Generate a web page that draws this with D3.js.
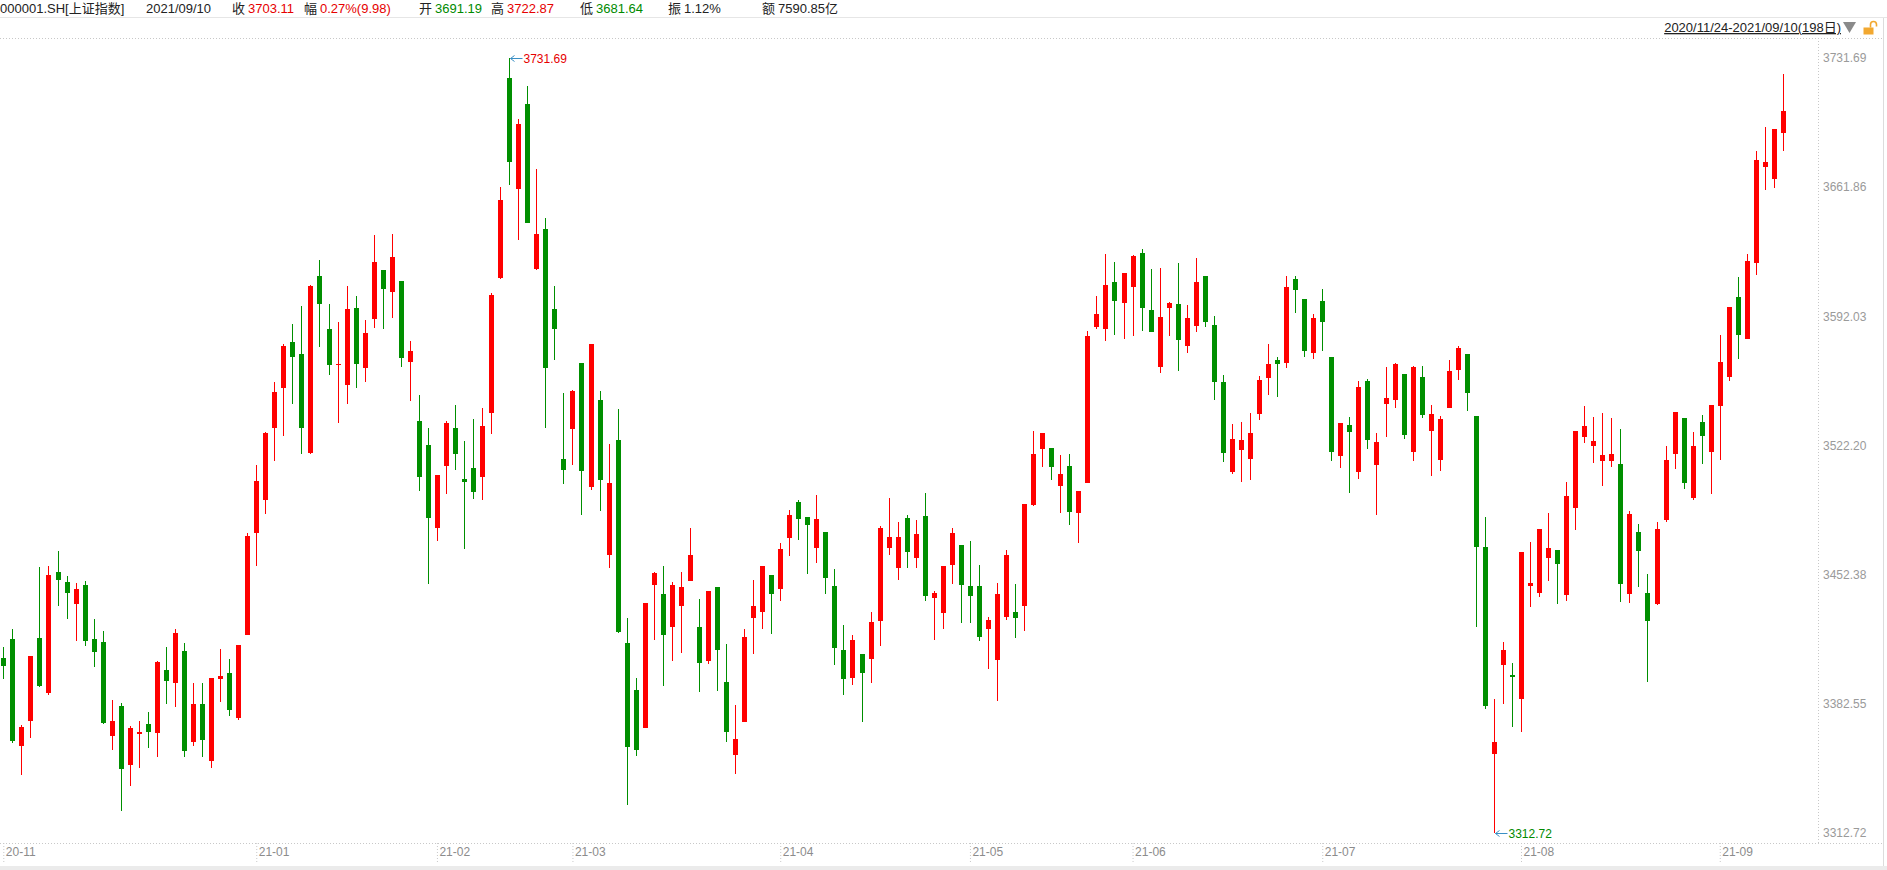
<!DOCTYPE html>
<html>
<head>
<meta charset="utf-8">
<script src="https://cdn.jsdelivr.net/npm/d3@7"></script>
<style>
  html, body { margin: 0; padding: 0; background: #fff; overflow: hidden; }
  svg { display: block; font-family: "Liberation Sans", Arial, "Noto Sans CJK SC", sans-serif; }
</style>
</head>
<body>
<svg id="chart" width="1887" height="870"></svg>
<script>
// trading days 2020/11/24 - 2021/09/10 {{{ //
const dates = [
  "2020-11-24","2020-11-25","2020-11-26","2020-11-27","2020-11-30",
  "2020-12-01","2020-12-02","2020-12-03","2020-12-04","2020-12-07","2020-12-08","2020-12-09","2020-12-10","2020-12-11","2020-12-14",
  "2020-12-15","2020-12-16","2020-12-17","2020-12-18","2020-12-21","2020-12-22","2020-12-23","2020-12-24","2020-12-25","2020-12-28",
  "2020-12-29","2020-12-30","2020-12-31",
  "2021-01-04","2021-01-05","2021-01-06","2021-01-07","2021-01-08","2021-01-11","2021-01-12","2021-01-13","2021-01-14","2021-01-15",
  "2021-01-18","2021-01-19","2021-01-20","2021-01-21","2021-01-22","2021-01-25","2021-01-26","2021-01-27","2021-01-28","2021-01-29",
  "2021-02-01","2021-02-02","2021-02-03","2021-02-04","2021-02-05","2021-02-08","2021-02-09","2021-02-10","2021-02-18","2021-02-19",
  "2021-02-22","2021-02-23","2021-02-24","2021-02-25","2021-02-26",
  "2021-03-01","2021-03-02","2021-03-03","2021-03-04","2021-03-05","2021-03-08","2021-03-09","2021-03-10","2021-03-11","2021-03-12",
  "2021-03-15","2021-03-16","2021-03-17","2021-03-18","2021-03-19","2021-03-22","2021-03-23","2021-03-24","2021-03-25","2021-03-26",
  "2021-03-29","2021-03-30","2021-03-31",
  "2021-04-01","2021-04-02","2021-04-06","2021-04-07","2021-04-08","2021-04-09","2021-04-12","2021-04-13","2021-04-14","2021-04-15",
  "2021-04-16","2021-04-19","2021-04-20","2021-04-21","2021-04-22","2021-04-23","2021-04-26","2021-04-27","2021-04-28","2021-04-29",
  "2021-04-30",
  "2021-05-06","2021-05-07","2021-05-10","2021-05-11","2021-05-12","2021-05-13","2021-05-14","2021-05-17","2021-05-18","2021-05-19",
  "2021-05-20","2021-05-21","2021-05-24","2021-05-25","2021-05-26","2021-05-27","2021-05-28","2021-05-31",
  "2021-06-01","2021-06-02","2021-06-03","2021-06-04","2021-06-07","2021-06-08","2021-06-09","2021-06-10","2021-06-11","2021-06-15",
  "2021-06-16","2021-06-17","2021-06-18","2021-06-21","2021-06-22","2021-06-23","2021-06-24","2021-06-25","2021-06-28","2021-06-29",
  "2021-06-30",
  "2021-07-01","2021-07-02","2021-07-05","2021-07-06","2021-07-07","2021-07-08","2021-07-09","2021-07-12","2021-07-13","2021-07-14",
  "2021-07-15","2021-07-16","2021-07-19","2021-07-20","2021-07-21","2021-07-22","2021-07-23","2021-07-26","2021-07-27","2021-07-28",
  "2021-07-29","2021-07-30",
  "2021-08-02","2021-08-03","2021-08-04","2021-08-05","2021-08-06","2021-08-09","2021-08-10","2021-08-11","2021-08-12","2021-08-13",
  "2021-08-16","2021-08-17","2021-08-18","2021-08-19","2021-08-20","2021-08-23","2021-08-24","2021-08-25","2021-08-26","2021-08-27",
  "2021-08-30","2021-08-31",
  "2021-09-01","2021-09-02","2021-09-03","2021-09-06","2021-09-07","2021-09-08","2021-09-09","2021-09-10"
];
// }}} trading days //

// OHLC {{{ //
const open = [
  3407.0, 3417.5, 3359.8, 3373.3, 3418.0, 3388.4, 3453.5, 3448.3, 3436.6, 3446.7,
  3417.5, 3415.8, 3365.2, 3381.2, 3349.5, 3366.3, 3371.5, 3366.8, 3400.7, 3393.8,
  3411.0, 3361.9, 3382.3, 3351.7, 3396.0, 3399.1, 3374.9, 3419.7, 3474.7, 3492.5,
  3531.4, 3553.0, 3578.1, 3571.5, 3518.2, 3613.7, 3585.1, 3566.0, 3555.0, 3596.5,
  3564.3, 3590.6, 3616.9, 3605.1, 3611.0, 3567.5, 3535.4, 3522.5, 3477.5, 3510.8,
  3531.8, 3504.2, 3510.0, 3504.9, 3539.9, 3612.5, 3720.9, 3661.1, 3706.9, 3617.4,
  3639.0, 3595.9, 3515.0, 3531.1, 3566.8, 3499.9, 3546.7, 3462.9, 3525.1, 3415.3,
  3389.9, 3369.5, 3446.9, 3441.8, 3424.2, 3435.5, 3449.0, 3424.0, 3405.8, 3445.6,
  3394.2, 3354.9, 3372.6, 3428.8, 3432.1, 3452.1, 3444.7, 3472.3, 3491.6, 3483.4,
  3466.9, 3475.3, 3446.1, 3411.5, 3396.6, 3409.4, 3406.8, 3427.4, 3466.9, 3456.0,
  3482.9, 3461.5, 3484.0, 3439.8, 3431.7, 3457.7, 3468.3, 3446.1, 3446.1, 3423.1,
  3406.3, 3429.5, 3432.1, 3435.5, 3489.9, 3520.4, 3520.8, 3500.4, 3511.0, 3485.8,
  3501.8, 3586.4, 3585.3, 3610.6, 3599.4, 3608.1, 3626.3, 3595.4, 3564.8, 3596.7,
  3598.7, 3576.2, 3587.0, 3613.8, 3587.3, 3556.5, 3508.0, 3519.7, 3515.0, 3539.4,
  3558.8, 3568.4, 3567.0, 3612.2, 3601.4, 3572.4, 3600.3, 3570.0, 3516.6, 3533.2,
  3508.0, 3557.0, 3511.8, 3544.8, 3546.9, 3560.8, 3518.8, 3559.2, 3530.2, 3514.5,
  3542.6, 3563.2, 3571.6, 3538.1, 3467.1, 3355.5, 3403.6, 3398.0, 3385.2, 3446.3,
  3442.6, 3461.5, 3465.6, 3441.5, 3488.5, 3526.9, 3522.0, 3513.9, 3513.9, 3512.1,
  3442.0, 3475.3, 3442.4, 3436.4, 3481.8, 3517.5, 3537.0, 3493.7, 3534.8, 3518.6,
  3543.5, 3559.2, 3602.4, 3579.7, 3620.8, 3672.9, 3666.4, 3691.19
];
const high = [
  3413.0, 3422.9, 3370.8, 3408.5, 3456.4, 3457.0, 3465.1, 3451.5, 3447.8, 3448.8,
  3428.3, 3421.8, 3384.3, 3382.7, 3370.4, 3373.1, 3378.0, 3405.6, 3413.1, 3422.9,
  3415.3, 3393.7, 3393.7, 3396.6, 3412.1, 3406.6, 3414.5, 3474.9, 3511.7, 3529.5,
  3556.6, 3576.8, 3587.8, 3597.4, 3608.8, 3622.2, 3598.5, 3588.9, 3608.2, 3602.9,
  3589.8, 3635.8, 3617.0, 3636.7, 3611.0, 3578.7, 3549.6, 3531.8, 3506.4, 3535.4,
  3544.1, 3524.6, 3536.5, 3542.2, 3604.5, 3662.1, 3731.69, 3698.7, 3716.5, 3671.9,
  3645.4, 3608.2, 3550.5, 3552.2, 3566.8, 3577.2, 3551.6, 3522.9, 3541.9, 3428.8,
  3396.4, 3437.2, 3453.7, 3457.0, 3448.1, 3453.7, 3477.5, 3439.1, 3443.6, 3445.8,
  3414.8, 3381.8, 3422.9, 3449.4, 3456.9, 3452.1, 3469.4, 3487.2, 3492.6, 3483.4,
  3495.3, 3475.3, 3455.3, 3425.0, 3419.6, 3409.4, 3432.1, 3478.6, 3493.7, 3480.7,
  3484.5, 3481.8, 3496.4, 3443.4, 3457.1, 3477.5, 3468.3, 3470.5, 3457.5, 3429.4,
  3447.8, 3465.6, 3447.2, 3490.7, 3530.0, 3529.1, 3520.8, 3517.0, 3517.5, 3497.5,
  3584.0, 3603.0, 3625.7, 3621.4, 3615.6, 3625.2, 3628.4, 3617.6, 3618.2, 3599.8,
  3620.9, 3598.1, 3623.6, 3613.8, 3592.2, 3560.3, 3533.8, 3534.9, 3539.7, 3559.7,
  3577.0, 3570.0, 3613.8, 3613.8, 3601.4, 3593.3, 3606.8, 3570.0, 3534.5, 3537.6,
  3557.0, 3558.1, 3528.9, 3564.6, 3566.8, 3560.8, 3565.1, 3565.1, 3544.0, 3538.1,
  3568.4, 3576.0, 3571.6, 3538.1, 3483.5, 3385.1, 3415.9, 3404.5, 3464.6, 3470.0,
  3477.2, 3485.6, 3465.6, 3502.4, 3530.1, 3543.5, 3537.5, 3539.7, 3537.0, 3531.1,
  3486.7, 3479.7, 3452.6, 3480.8, 3521.9, 3540.4, 3537.2, 3529.4, 3538.6, 3544.2,
  3581.9, 3597.1, 3613.3, 3625.7, 3681.4, 3694.3, 3693.3, 3722.87
];
const low = [
  3396.0, 3361.5, 3344.1, 3364.1, 3391.5, 3387.0, 3435.5, 3428.5, 3416.6, 3413.9,
  3402.5, 3371.5, 3357.4, 3324.6, 3338.1, 3347.7, 3358.5, 3353.8, 3382.5, 3380.9,
  3353.6, 3359.8, 3353.6, 3347.7, 3383.4, 3375.8, 3373.7, 3419.7, 3457.2, 3484.9,
  3513.6, 3527.1, 3544.8, 3517.4, 3517.6, 3575.5, 3560.0, 3534.1, 3544.3, 3553.0,
  3556.7, 3585.9, 3585.3, 3591.2, 3564.7, 3546.3, 3497.4, 3447.3, 3470.5, 3495.7,
  3508.7, 3466.2, 3493.0, 3492.5, 3528.6, 3612.1, 3663.2, 3633.5, 3642.3, 3617.3,
  3531.8, 3568.5, 3501.1, 3511.6, 3484.6, 3498.1, 3486.7, 3455.9, 3420.8, 3327.9,
  3354.4, 3369.3, 3417.1, 3392.3, 3405.8, 3410.1, 3449.0, 3389.0, 3404.2, 3389.5,
  3362.0, 3344.7, 3372.5, 3409.4, 3422.9, 3420.2, 3438.2, 3462.5, 3471.2, 3452.8,
  3458.7, 3442.0, 3403.6, 3387.4, 3392.8, 3372.8, 3393.9, 3413.9, 3463.1, 3449.6,
  3456.0, 3456.0, 3438.2, 3416.9, 3422.9, 3447.4, 3426.3, 3426.3, 3416.6, 3401.4,
  3384.1, 3427.9, 3418.2, 3422.0, 3489.4, 3510.7, 3503.5, 3485.8, 3479.1, 3469.4,
  3501.8, 3585.0, 3578.9, 3582.1, 3579.9, 3581.5, 3584.3, 3583.6, 3561.5, 3581.5,
  3562.6, 3572.4, 3583.7, 3586.4, 3546.9, 3513.4, 3506.9, 3502.6, 3503.7, 3536.1,
  3549.7, 3548.6, 3564.2, 3594.0, 3570.2, 3569.1, 3573.5, 3513.9, 3510.2, 3496.6,
  3504.2, 3520.4, 3484.7, 3526.9, 3542.6, 3525.5, 3513.9, 3537.2, 3505.8, 3508.5,
  3542.5, 3557.7, 3541.0, 3424.2, 3379.8, 3312.72, 3382.5, 3370.1, 3367.4, 3435.0,
  3440.4, 3449.0, 3436.6, 3438.2, 3476.4, 3523.7, 3512.8, 3500.4, 3510.7, 3437.7,
  3437.1, 3445.8, 3394.4, 3435.9, 3480.8, 3509.4, 3498.6, 3492.7, 3512.1, 3495.9,
  3514.3, 3557.0, 3568.9, 3579.6, 3614.3, 3660.3, 3661.5, 3681.64
];
const close = [
  3402.8, 3362.3, 3369.7, 3408.3, 3391.8, 3451.9, 3449.4, 3442.1, 3444.6, 3416.6,
  3410.2, 3372.0, 3373.3, 3347.2, 3369.1, 3367.2, 3367.0, 3404.9, 3394.9, 3420.6,
  3356.8, 3382.3, 3363.1, 3396.6, 3397.3, 3379.0, 3414.5, 3473.1, 3503.0, 3528.7,
  3550.9, 3576.2, 3570.1, 3531.5, 3608.3, 3598.7, 3565.9, 3566.4, 3596.2, 3566.4,
  3583.1, 3621.3, 3606.8, 3624.2, 3569.4, 3573.3, 3505.2, 3483.1, 3505.9, 3534.4,
  3517.4, 3502.3, 3496.8, 3532.7, 3603.5, 3655.1, 3675.4, 3696.1, 3642.4, 3636.3,
  3564.3, 3585.1, 3509.1, 3551.4, 3508.6, 3576.9, 3503.5, 3502.0, 3421.4, 3359.3,
  3357.7, 3436.8, 3453.1, 3419.9, 3446.7, 3445.6, 3463.1, 3404.7, 3443.4, 3411.5,
  3367.1, 3363.6, 3418.3, 3435.3, 3456.7, 3441.9, 3466.3, 3484.4, 3482.5, 3479.3,
  3482.4, 3450.7, 3412.8, 3396.0, 3416.9, 3399.0, 3426.7, 3477.5, 3472.6, 3472.6,
  3464.7, 3474.2, 3440.9, 3442.3, 3456.9, 3474.8, 3446.9, 3440.9, 3418.7, 3427.7,
  3441.8, 3462.9, 3429.0, 3490.5, 3517.5, 3528.9, 3510.7, 3506.7, 3486.3, 3497.3,
  3581.3, 3593.3, 3609.0, 3600.5, 3615.5, 3624.7, 3596.7, 3583.7, 3591.7, 3599.2,
  3579.4, 3591.1, 3610.6, 3589.1, 3556.6, 3518.3, 3525.7, 3525.1, 3528.9, 3557.6,
  3566.2, 3566.4, 3607.6, 3606.4, 3573.2, 3591.2, 3588.8, 3518.8, 3534.3, 3529.6,
  3553.8, 3525.3, 3524.0, 3547.8, 3566.2, 3528.0, 3564.6, 3538.8, 3539.2, 3536.5,
  3562.4, 3574.9, 3550.4, 3467.4, 3381.2, 3361.6, 3411.7, 3397.4, 3464.3, 3447.8,
  3477.0, 3466.7, 3458.2, 3494.8, 3529.9, 3532.7, 3524.6, 3516.8, 3517.5, 3447.0,
  3485.1, 3465.3, 3427.3, 3477.0, 3514.3, 3540.2, 3501.7, 3521.9, 3527.3, 3543.9,
  3567.1, 3597.0, 3581.7, 3621.9, 3676.6, 3675.2, 3693.1, 3703.11
];
// }}} OHLC //

// axis ticks {{{ //
const monthTicks = ["2020-11-24","2021-01-04","2021-02-01","2021-03-01","2021-04-01",
                    "2021-05-06","2021-06-01","2021-07-01","2021-08-02","2021-09-01"];
const monthLabels = ["20-11","21-01","21-02","21-03","21-04","21-05","21-06","21-07","21-08","21-09"];
const priceTicks = [3312.72, 3382.55, 3452.38, 3522.20, 3592.03, 3661.86, 3731.69];
// }}} axis ticks //

// header {{{ //
const quoteName = "000001.SH[上证指数]";
const quoteDate = "2021/09/10";
const quoteKeys = ["收", "幅", "开", "高", "低", "振", "额"];
const quoteVals = ["3703.11", "0.27%(9.98)", "3691.19", "3722.87", "3681.64", "1.12%", "7590.85亿"];
const rangeText = "2020/11/24-2021/09/10(198日)";
// }}} header //

const RED = "#ff0000", GREEN = "#008f00";
const TXT_RED = "#e60000", TXT_GREEN = "#008a00";
const W = 1887, H = 870;
const plotRight = 1818, plotTop = 38, plotBottom = 843;
// left edge of every header field (key char), value follows 16px later
const fieldX = [232, 304, 419, 491, 580, 668, 762];

const svg = d3.select("#chart");
svg.append("rect").attr("width", W).attr("height", H).attr("fill", "#fff");

const x = d3.scalePoint().domain(dates).range([3.3, 1783]);
const y = d3.scaleLinear().domain([3312.72, 3731.69]).range([832.7, 58]);

// frame lines {{{ //
svg.append("line").attr("x1", 0).attr("x2", W).attr("y1", 17.5).attr("y2", 17.5)
  .attr("stroke", "#e6e6e6");
const dotted = svg.append("g").attr("stroke", "#c8c8c8").attr("stroke-dasharray", "1,2");
dotted.append("line").attr("x1", 0).attr("x2", 1883).attr("y1", plotTop + 0.5).attr("y2", plotTop + 0.5);
dotted.append("line").attr("x1", 0).attr("x2", 1883).attr("y1", plotBottom + 0.5).attr("y2", plotBottom + 0.5);
dotted.append("line").attr("x1", plotRight + 0.5).attr("x2", plotRight + 0.5).attr("y1", plotTop).attr("y2", plotBottom);
svg.append("line").attr("x1", 1883.5).attr("x2", 1883.5).attr("y1", 18).attr("y2", 866)
  .attr("stroke", "#dcdcdc");
svg.append("rect").attr("x", 0).attr("y", 866).attr("width", W).attr("height", 4).attr("fill", "#ebebeb");
// }}} frame lines //

// header text {{{ //
const head = svg.append("g").style("font-size", "13px");
function headText(str, hx, color) {
  head.append("text").attr("x", hx).attr("y", 13).attr("fill", color).text(str);
}
headText(quoteName, 0, "#222");
headText(quoteDate, 146, "#222");
quoteKeys.forEach(function(k, i) {
  headText(k, fieldX[i], "#222");
  let c = "#222";
  if (i === 0 || i === 1 || i === 3) c = TXT_RED;
  if (i === 2 || i === 4) c = TXT_GREEN;
  headText(quoteVals[i], fieldX[i] + 16, c);
});

svg.append("text").attr("x", 1841).attr("y", 32).attr("text-anchor", "end")
  .style("font-size", "13px").style("text-decoration", "underline")
  .attr("fill", "#222").text(rangeText);
svg.append("path").attr("d", "M1843,22L1856,22L1849.5,33Z").attr("fill", "#8a8a8a");
svg.append("rect").attr("x", 1863.5).attr("y", 27.5).attr("width", 10).attr("height", 7).attr("fill", "#f2a830");
svg.append("path").attr("d", "M1870.5,27.5V24.5a3,3 0 0 1 6,0V26.5")
  .attr("fill", "none").attr("stroke", "#f2a830").attr("stroke-width", 1.6);
// }}} header text //

// right axis {{{ //
const yAxis = svg.append("g")
  .attr("transform", "translate(" + plotRight + ",0)")
  .call(d3.axisRight(y).tickValues(priceTicks).tickSize(0).tickPadding(5).tickFormat(d3.format(".2f")));
yAxis.select(".domain").remove();
yAxis.selectAll(".tick text")
  .attr("fill", "#9a9a9a")
  .style("font-size", "12px")
  .style("font-family", "'Liberation Sans', Arial, sans-serif");
// }}} right axis //

// bottom axis {{{ //
const xAxis = svg.append("g")
  .attr("transform", "translate(0," + plotBottom + ")")
  .call(d3.axisBottom(x).tickValues(monthTicks).tickSize(19).tickFormat((d, i) => monthLabels[i]));
xAxis.select(".domain").remove();
xAxis.selectAll(".tick line").attr("stroke", "#c8c8c8").attr("stroke-dasharray", "1,2");
xAxis.selectAll(".tick text")
  .attr("text-anchor", "start")
  .attr("x", 2)
  .attr("y", 4)
  .attr("dy", "0.71em")
  .attr("fill", "#8c8c8c")
  .style("font-size", "12px")
  .style("font-family", "'Liberation Sans', Arial, sans-serif");
// }}} bottom axis //

// candles {{{ //
const idx = d3.range(dates.length);
const cx = i => Math.round(x(dates[i]));
const col = i => close[i] >= open[i] ? RED : GREEN;
const candles = svg.append("g").attr("shape-rendering", "crispEdges");

candles.selectAll("line.wick")
  .data(idx)
  .enter().append("line")
  .attr("class", "wick")
  .attr("x1", i => cx(i) + 0.5)
  .attr("x2", i => cx(i) + 0.5)
  .attr("y1", i => y(high[i]))
  .attr("y2", i => y(low[i]))
  .attr("stroke", col)
  .attr("stroke-width", 1);

candles.selectAll("rect.body")
  .data(idx)
  .enter().append("rect")
  .attr("class", "body")
  .attr("x", i => cx(i) - 2)
  .attr("width", 5)
  .attr("y", i => y(Math.max(open[i], close[i])))
  .attr("height", i => Math.max(1.5, Math.abs(y(open[i]) - y(close[i]))))
  .attr("fill", col);
// }}} candles //

// max / min markers {{{ //
function marker(i, val, color) {
  const px = cx(i) + 0.5, py = Math.round(y(val)) + 0.5;
  const g = svg.append("g");
  g.append("path")
    .attr("d", "M" + (px + 1) + "," + py + "H" + (px + 13) +
               "M" + (px + 1) + "," + py + "l4,-3M" + (px + 1) + "," + py + "l4,3")
    .attr("stroke", "#3a8fc4").attr("fill", "none").attr("stroke-width", 1);
  g.append("text")
    .attr("x", px + 14).attr("y", py).attr("dy", "0.35em")
    .attr("fill", color)
    .style("font-size", "12px")
    .text(d3.format(".2f")(val));
}
const iMax = d3.maxIndex(high), iMin = d3.minIndex(low);
marker(iMax, high[iMax], TXT_RED);
marker(iMin, low[iMin], TXT_GREEN);
// }}} max / min markers //
</script>
</body>
</html>
